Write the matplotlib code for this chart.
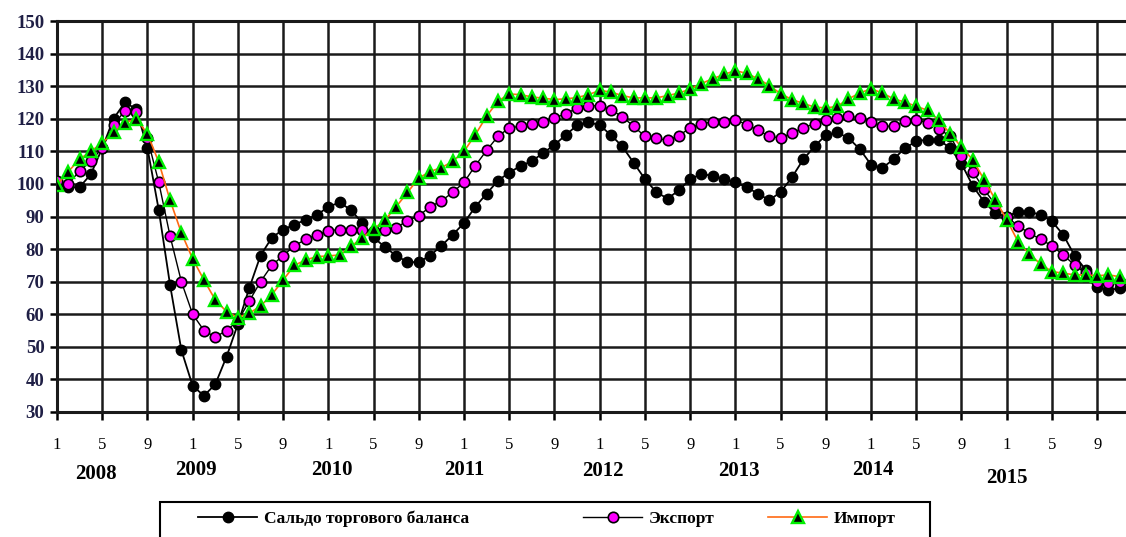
import numpy as np
import matplotlib
matplotlib.use('Agg')
import matplotlib.pyplot as plt
from matplotlib.patches import Rectangle
from matplotlib.transforms import blended_transform_factory

plt.rcParams['font.family'] = ['Liberation Serif', 'DejaVu Serif']

# monthly indices, Jan 2008 .. Nov 2015
saldo = [100, 99, 99, 103, 111, 120, 125, 123, 111, 92, 69, 49,
         38, 35, 38.5, 47, 57, 68, 78, 83.5, 86, 87.5, 89, 90.5,
         93, 94.3, 92, 88, 83.6, 80.6, 78, 76, 76, 78, 81, 84.4,
         88, 93, 97, 101, 103.5, 105.5, 107, 109.5, 112, 115, 118, 119,
         118, 115, 111.5, 106.5, 101.5, 97.5, 95.5, 98, 101.5, 103, 102.5, 101.5,
         100.5, 99, 97, 95, 97.5, 102, 107.5, 111.5, 115, 115.8, 114.1, 110.7,
         105.9, 104.9, 107.6, 111, 113.1, 113.6, 113.5, 111, 106.2, 99.4, 94.5, 91,
         90, 91.5, 91.5, 90.5, 88.5, 84.4, 78, 73.6, 68.5, 67.4, 68]
eksport = [100.8, 100, 104, 107, 111, 118, 122.5, 122, 114, 100.5, 84, 70,
           60, 55, 53, 55, 58, 64, 70, 75, 78, 81, 83, 84.4,
           85.6, 86, 86, 86, 85.5, 86, 86.6, 88.7, 90.2, 93, 94.8, 97.4,
           100.5, 105.6, 110.3, 114.6, 117.2, 117.7, 118.4, 119, 120.3, 121.5, 123.3, 124,
           124, 122.8, 120.6, 117.7, 114.6, 114, 113.4, 114.8, 117.2, 118.5, 119, 119,
           119.7, 118.2, 116.5, 114.6, 114.1, 115.6, 117.2, 118.5, 119.7, 120.3, 120.8, 120.3,
           118.9, 117.7, 117.7, 119.2, 119.7, 118.7, 116.9, 114.6, 108.5, 103.8, 98.3, 93.6,
           90, 87.1, 84.9, 83, 81, 78.2, 75.1, 72.6, 70, 69.5, 70]
import_ = [99.7, 103.8, 107.6, 110, 112.6, 115.8, 118.7, 120, 115.4, 106.7, 95, 85,
           77, 70.5, 64.4, 60.8, 59, 60.3, 62.5, 66, 70.5, 75, 76.7, 77.7,
           77.9, 78.2, 80.8, 83.5, 86.1, 88.9, 93, 97.4, 101.8, 103.8, 105, 106.9,
           110, 115.1, 120.8, 125.4, 127.6, 127.4, 126.7, 126.3, 125.9, 126.1, 126.5, 127.4,
           128.7, 128.2, 127.1, 126.4, 126.4, 126.4, 127.1, 127.9, 129.1, 130.8, 132.3, 133.6,
           134.8, 133.9, 132.3, 130.2, 127.7, 125.9, 124.7, 123.6, 123.3, 123.8, 126.1, 127.9,
           129.2, 127.9, 126.1, 125.1, 123.8, 122.6, 119.5, 115.4, 111.3, 107.4, 101.3, 95.1,
           89, 82.3, 78.5, 75.4, 73.1, 72.6, 72.1, 72.1, 71.8, 72.1, 71.5]
month_labels = ['1', '5', '9']
years = ['2008', '2009', '2010', '2011', '2012', '2013', '2014', '2015']
year_x = [3.4, 12.3, 24.3, 36, 48.3, 60.3, 72.2, 84]
year_y = [-0.158, -0.148, -0.148, -0.148, -0.151, -0.150, -0.148, -0.170]

x = np.arange(len(saldo))

fig = plt.figure(figsize=(11.26, 5.37), dpi=100)
ax = fig.add_axes([57/1126, 1 - 412/537, 1 - 57/1126, (412 - 21)/537])

l1, = ax.plot(x, saldo, color='black', lw=1.3, marker='o', ms=7.5,
              mfc='black', mec='black', zorder=3)
l2, = ax.plot(x, eksport, color='black', lw=1.0, marker='o', ms=7.5,
              mfc='#ff00ff', mec='black', mew=1.2, zorder=4)
l3, = ax.plot(x, import_, color='#ff6a13', lw=1.2, marker='^', ms=8.5,
              mfc='black', mec='#00ee00', mew=1.7, zorder=5)

ax.set_xlim(0, 94.55)
ax.set_ylim(30, 150)
xt = np.arange(0, 95, 4)
ax.set_xticks(xt)
ax.set_xticklabels([month_labels[i % 3] for i in range(len(xt))])
ax.set_yticks(np.arange(30, 151, 10))
ax.grid(True, color='#1a1a1a', lw=1.8)
ax.set_axisbelow(True)
ax.spines['right'].set_visible(False)
for s in ['left', 'bottom', 'top']:
    ax.spines[s].set_linewidth(2.2)
    ax.spines[s].set_color('#1a1a1a')
ax.tick_params(axis='x', direction='out', length=6, width=1.8, pad=12, labelsize=12)
ax.tick_params(axis='y', direction='out', length=5, width=1.8, pad=4, labelsize=13.5,
               labelcolor='#1f1f45')
for t in ax.get_yticklabels():
    t.set_fontweight('bold')

tr = blended_transform_factory(ax.transData, ax.transAxes)
for yr, xp, yp in zip(years, year_x, year_y):
    ax.text(xp, yp, yr, transform=tr, ha='center', va='center',
            fontsize=15, fontweight='bold', clip_on=False)

# legend frame (cut at the bottom like the source)
fig.patches.append(Rectangle((160/1126, -0.05), (930 - 160)/1126, 0.05 + (537 - 502)/537,
                             transform=fig.transFigure, fill=False, ec='black', lw=1.5))
leg_y = 1 - 519/537
for h, lab, lx in [(l1, 'Сальдо торгового баланса', 198/1126),
                   (l2, 'Экспорт', 583/1126),
                   (l3, 'Импорт', 768/1126)]:
    fig.legend([h], [lab], loc='center left', bbox_to_anchor=(lx, leg_y),
               frameon=False, handlelength=3.4, handletextpad=0.4,
               borderaxespad=0, borderpad=0,
               prop={'size': 12.5, 'weight': 'bold'})

fig.savefig('out.png', dpi=100)
